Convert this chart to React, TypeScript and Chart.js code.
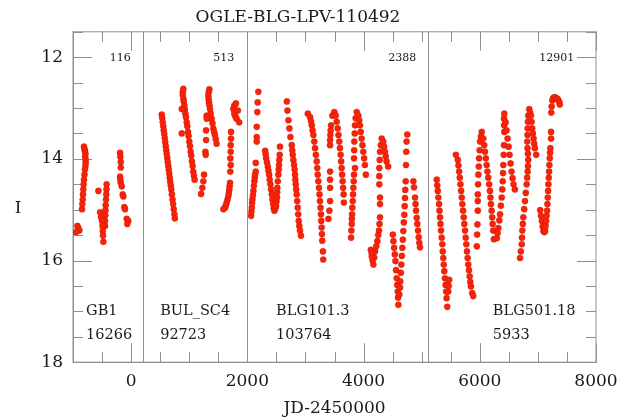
import React, { useEffect, useRef } from 'react';
import { Chart, registerables } from 'chart.js';

Chart.register(...registerables);

type P = [number, number];

// ---- Data (JD-2450000, I mag) ----
const gb1: P[] = [
  [-811, 13.76], [-802, 13.81], [-794, 13.85], [-786, 13.9], [-790, 13.96], [-782, 14.02], [-782, 14.08], [-786, 14.14],
  [-794, 14.21], [-802, 14.31], [-811, 14.41], [-817, 14.5], [-823, 14.6], [-828, 14.7], [-833, 14.8], [-840, 14.89], [-845, 14.99],
  [-925, 15.32], [-908, 15.36], [-891, 15.41], [-947, 15.44],
  [-563, 14.63],
  [-421, 14.5], [-424, 14.6], [-427, 14.7], [-432, 14.8], [-438, 14.91], [-441, 15.01], [-444, 15.11], [-449, 15.22], [-449, 15.32],
  [-534, 15.05], [-517, 15.15], [-500, 15.22], [-492, 15.32], [-487, 15.42], [-483, 15.51], [-478, 15.63],
  [-190, 13.88], [-185, 13.96], [-178, 14.06], [-178, 14.17], [-190, 14.35], [-185, 14.41], [-178, 14.47], [-161, 14.54],
  [-144, 14.7], [-134, 14.74], [-117, 14.95], [-105, 14.99], [-76, 15.18], [-49, 15.22], [-66, 15.28],
];

const bulSc4: P[] = [
  [527, 13.13], [536, 13.2], [544, 13.28], [553, 13.36], [562, 13.44], [570, 13.51], [579, 13.59], [587, 13.67], [596, 13.75],
  [605, 13.83], [613, 13.9], [622, 13.98], [630, 14.06], [639, 14.14], [648, 14.21], [656, 14.29], [665, 14.37], [673, 14.45],
  [682, 14.52], [691, 14.6], [702, 14.7], [713, 14.8], [723, 14.89], [734, 14.99], [745, 15.09], [753, 15.17],
  [899, 12.62], [889, 12.68], [889, 12.74], [899, 12.82], [906, 12.87], [916, 12.95], [925, 13.03], [933, 13.11], [945, 13.18],
  [957, 13.28], [967, 13.36], [979, 13.47], [989, 13.55], [1001, 13.66], [1013, 13.75], [1025, 13.86], [1035, 13.94],
  [1047, 14.05], [1059, 14.14], [1069, 14.25], [1081, 14.33], [1093, 14.41],
  [872, 13.02], [872, 13.5],
  [1255, 14.31], [1243, 14.44], [1226, 14.57], [1204, 14.69],
  [1346, 12.63], [1335, 12.69], [1329, 12.76], [1335, 12.83], [1340, 12.89], [1349, 12.95], [1357, 13.02], [1371, 13.11],
  [1386, 13.21], [1400, 13.3], [1414, 13.4], [1429, 13.47], [1442, 13.53], [1456, 13.61], [1471, 13.7],
  [1301, 13.15], [1301, 13.21], [1290, 13.44], [1290, 13.63], [1278, 13.86], [1284, 13.92],
  [1775, 12.95], [1758, 13.02], [1775, 13.11], [1796, 13.17], [1815, 13.21], [1860, 13.28], [1804, 12.91], [1838, 13.05],
  [1719, 13.47], [1719, 13.6], [1714, 13.73], [1714, 13.86], [1707, 13.99], [1714, 14.12], [1707, 14.25],
  [1702, 14.47], [1695, 14.54], [1690, 14.6], [1682, 14.67], [1673, 14.73], [1659, 14.8], [1646, 14.86], [1631, 14.91],
  [1617, 14.96], [1588, 14.99],
];

const blg101: P[] = [
  [2065, 15.12], [2070, 15.04], [2077, 14.96], [2082, 14.87], [2087, 14.8], [2096, 14.72], [2104, 14.63], [2113, 14.53],
  [2121, 14.44], [2128, 14.37], [2133, 14.31], [2145, 14.25], [2145, 14.08], [2162, 13.66], [2162, 13.57], [2162, 13.37],
  [2172, 13.08], [2178, 12.89], [2189, 12.68],
  [2307, 13.84], [2316, 13.91], [2324, 13.99], [2338, 14.07], [2353, 14.15], [2363, 14.23], [2375, 14.31], [2385, 14.41],
  [2397, 14.5], [2409, 14.6], [2421, 14.7], [2431, 14.8], [2443, 14.89], [2455, 14.97], [2465, 15.02], [2480, 14.98],
  [2494, 14.93], [2502, 14.84], [2511, 14.76], [2514, 14.66], [2516, 14.57], [2524, 14.44], [2533, 14.31], [2540, 14.21],
  [2545, 14.12], [2550, 14.02], [2557, 13.92], [2562, 13.76],
  [2680, 12.87], [2690, 13.05], [2707, 13.24], [2724, 13.4], [2741, 13.57], [2765, 13.73], [2773, 13.83], [2782, 13.92],
  [2792, 14.02], [2804, 14.12], [2813, 14.21], [2821, 14.31], [2826, 14.41], [2833, 14.5], [2841, 14.6], [2850, 14.7],
  [2858, 14.83], [2867, 14.96], [2875, 15.09], [2884, 15.22], [2894, 15.32], [2906, 15.41], [2923, 15.51],
  [3041, 13.11], [3080, 13.18], [3097, 13.26], [3109, 13.34], [3123, 13.44], [3136, 13.53], [3152, 13.66], [3165, 13.79],
  [3179, 13.92], [3194, 14.05], [3203, 14.18], [3211, 14.31], [3221, 14.44], [3233, 14.57], [3242, 14.7], [3250, 14.83],
  [3259, 14.96], [3267, 15.09], [3272, 15.22], [3279, 15.35], [3284, 15.48], [3289, 15.61], [3301, 15.82], [3306, 15.98],
  [3497, 13.08], [3463, 13.15], [3441, 13.34], [3434, 13.44], [3429, 13.53], [3424, 13.63], [3424, 13.73],
  [3424, 14.25], [3424, 14.41], [3424, 14.57], [3424, 14.83], [3412, 15.02], [3395, 15.18],
  [3521, 13.15], [3538, 13.27], [3555, 13.4], [3568, 13.53], [3582, 13.66], [3594, 13.79], [3606, 13.92], [3614, 14.05],
  [3623, 14.18], [3631, 14.31], [3640, 14.44], [3648, 14.57], [3657, 14.7], [3662, 14.86],
  [3882, 13.08], [3865, 13.2], [3853, 13.34], [3848, 13.5], [3841, 13.66], [3839, 13.83], [3836, 13.99], [3853, 14.18],
  [3836, 14.31], [3831, 14.44], [3824, 14.57], [3819, 14.7], [3814, 14.83], [3807, 14.96], [3802, 15.09], [3799, 15.18],
  [3797, 15.28], [3790, 15.41], [3785, 15.55],
  [3910, 13.15], [3925, 13.24], [3938, 13.34], [3952, 13.47], [3967, 13.6], [3981, 13.73], [3995, 13.86], [4010, 13.99],
  [4023, 14.12], [4040, 14.31],
  [4312, 13.6], [4297, 13.73], [4283, 13.86], [4278, 14.02], [4271, 14.18], [4271, 14.34], [4271, 14.5], [4283, 14.76], [4283, 14.89],
  [4339, 13.66], [4354, 13.76], [4368, 13.86], [4381, 13.95], [4396, 14.05], [4423, 14.15],
  [4283, 15.15], [4275, 15.28], [4266, 15.41], [4252, 15.5], [4237, 15.62], [4218, 15.72], [4198, 15.82], [4184, 15.94],
  [4169, 16.08], [4156, 16.0], [4142, 15.92], [4125, 15.79], [4139, 15.85],
  [4504, 15.49], [4514, 15.62], [4526, 15.75], [4538, 15.88], [4548, 16.01], [4560, 16.19], [4571, 16.35], [4580, 16.48],
  [4588, 16.61], [4593, 16.73], [4599, 16.87],
  [4616, 16.67], [4628, 16.53], [4633, 16.41], [4642, 16.24], [4650, 16.08], [4659, 15.91], [4667, 15.75], [4676, 15.59],
  [4684, 15.42], [4693, 15.25], [4701, 15.1], [4708, 14.93], [4713, 14.77], [4718, 14.61], [4725, 14.44], [4730, 14.12],
  [4735, 13.86], [4741, 13.66], [4752, 13.52],
  [4857, 14.44], [4869, 14.56], [4886, 14.76], [4894, 14.89], [4903, 15.02], [4915, 15.16], [4925, 15.28], [4937, 15.41],
  [4949, 15.54], [4959, 15.65], [4971, 15.74],
];

const blg501: P[] = [
  [5260, 14.41], [5268, 14.52], [5277, 14.63], [5287, 14.76], [5299, 14.89], [5307, 15.02], [5316, 15.15], [5324, 15.28],
  [5333, 15.41], [5345, 15.55], [5355, 15.68], [5363, 15.82], [5372, 15.95], [5380, 16.08], [5389, 16.21], [5401, 16.35],
  [5412, 16.48], [5421, 16.61], [5429, 16.74], [5440, 16.91],
  [5474, 16.38], [5465, 16.5], [5457, 16.61],
  [5589, 13.92], [5622, 14.02], [5633, 14.13], [5645, 14.25], [5656, 14.37], [5667, 14.5], [5679, 14.63], [5690, 14.76],
  [5700, 14.89], [5712, 15.02], [5724, 15.15], [5734, 15.28], [5746, 15.41], [5758, 15.55], [5768, 15.68], [5780, 15.82],
  [5792, 15.95], [5802, 16.08], [5814, 16.19], [5826, 16.31], [5836, 16.42], [5848, 16.51], [5870, 16.64], [5887, 16.7],
  [6034, 13.47], [6019, 13.56], [6005, 13.66], [5997, 13.83], [5988, 13.99], [5983, 14.15], [5976, 14.31], [5971, 14.5],
  [5966, 14.7], [5966, 14.83], [5966, 15.02], [5959, 15.29], [5954, 15.49], [5949, 15.72],
  [6061, 13.6], [6076, 13.73], [6090, 13.86], [6104, 13.99], [6119, 14.12], [6132, 14.25], [6146, 14.37], [6161, 14.5],
  [6175, 14.63], [6183, 14.76], [6192, 14.89], [6204, 15.02], [6214, 15.15], [6222, 15.28], [6231, 15.41], [6243, 15.58],
  [6293, 15.56], [6307, 15.46], [6320, 15.36], [6336, 15.21], [6349, 15.09], [6363, 14.92], [6378, 14.76], [6387, 14.6],
  [6395, 14.44], [6400, 14.28], [6405, 14.12], [6412, 13.92], [6417, 13.73], [6422, 13.47], [6419, 13.34], [6417, 13.21], [6422, 13.11],
  [6445, 13.28], [6462, 13.44], [6479, 13.6], [6496, 13.76], [6513, 13.92], [6530, 14.09], [6547, 14.25], [6564, 14.38],
  [6581, 14.5], [6603, 14.6],
  [6693, 15.95], [6707, 15.82], [6722, 15.68], [6727, 15.55], [6732, 15.41], [6741, 15.28], [6749, 15.15], [6764, 14.99],
  [6778, 14.83], [6792, 14.67], [6807, 14.5], [6815, 14.37], [6824, 14.25], [6829, 14.14], [6834, 14.02],
  [6851, 13.02], [6834, 13.15], [6829, 13.27], [6824, 13.4], [6821, 13.53], [6817, 13.66], [6821, 13.79], [6829, 13.9],
  [6866, 13.09], [6880, 13.15], [6892, 13.27], [6902, 13.4], [6914, 13.5], [6926, 13.6], [6936, 13.7], [6948, 13.79], [6970, 13.92],
  [7040, 15.01], [7053, 15.12], [7069, 15.22], [7082, 15.33], [7096, 15.42], [7111, 15.44], [7125, 15.42], [7133, 15.32],
  [7142, 15.22], [7150, 15.12], [7159, 15.02], [7164, 14.89], [7170, 14.76], [7176, 14.63], [7181, 14.5], [7187, 14.37],
  [7193, 14.25], [7198, 14.12], [7204, 13.99], [7210, 13.88], [7215, 13.79], [7227, 13.6], [7227, 13.47],
  [7230, 13.09], [7237, 12.97], [7249, 12.85], [7261, 12.81], [7278, 12.79], [7300, 12.79], [7324, 12.81], [7346, 12.83],
  [7368, 12.88], [7377, 12.93],
];

const separatorsJD = [210, 2000, 5105];
const fieldNames = ['GB1', 'BUL_SC4', 'BLG101.3', 'BLG501.18'];
const fieldCounts = ['16266', '92723', '103764', '5933'];
const topCounts = ['116', '513', '2388', '12901'];
const xTickValues = [0, 2000, 4000, 6000, 8000];
const yTickValues = [12, 14, 16, 18];

// label anchor positions (data units)
const fieldLabelJD = [-775, 500, 2495, 6225];
const topCountJD = [-5, 1775, 4905, 7625];
const TOP_COUNT_I = 12.02;
const FIELD_NAME_I = 16.99;
const FIELD_COUNT_I = 17.46;

const FONT = "'DejaVu Serif', serif";
const AXIS_COLOR = '#8f8f8f';
const TEXT_COLOR = '#1a1a1a';

const framePlugin = {
  id: 'framePlugin',
  beforeDatasetsDraw(chart: any) {
    const { ctx, chartArea } = chart;
    const xs = chart.scales.x;
    const ys = chart.scales.y;
    const { left, right, top, bottom } = chartArea;
    ctx.save();
    ctx.strokeStyle = AXIS_COLOR;
    ctx.lineWidth = 1;
    ctx.strokeRect(left, top, right - left, bottom - top);
    separatorsJD.forEach((v) => {
      const px = Math.round(xs.getPixelForValue(v)) + 0.5;
      ctx.beginPath();
      ctx.moveTo(px, top);
      ctx.lineTo(px, bottom);
      ctx.stroke();
    });
    for (let k = -2; k <= 16; k++) {
      const v = k * 500;
      const px = Math.round(xs.getPixelForValue(v)) + 0.5;
      const len = v % 2000 === 0 ? 19 : 10;
      ctx.beginPath();
      ctx.moveTo(px, bottom);
      ctx.lineTo(px, bottom - len);
      ctx.moveTo(px, top);
      ctx.lineTo(px, top + len);
      ctx.stroke();
    }
    for (let k = 23; k <= 36; k++) {
      const v = k / 2;
      const py = Math.round(ys.getPixelForValue(v)) + 0.5;
      const len = k % 4 === 0 ? 19 : 10;
      ctx.beginPath();
      ctx.moveTo(left, py);
      ctx.lineTo(left + len, py);
      ctx.moveTo(right, py);
      ctx.lineTo(right - len, py);
      ctx.stroke();
    }
    ctx.restore();
  },
  afterDraw(chart: any) {
    const { ctx } = chart;
    const xs = chart.scales.x;
    const ys = chart.scales.y;
    ctx.save();
    ctx.fillStyle = TEXT_COLOR;
    ctx.textBaseline = 'middle';
    ctx.font = `11px ${FONT}`;
    ctx.textAlign = 'right';
    topCounts.forEach((t, i) => {
      ctx.fillText(t, xs.getPixelForValue(topCountJD[i]), ys.getPixelForValue(TOP_COUNT_I));
    });
    ctx.font = `14.5px ${FONT}`;
    ctx.textAlign = 'left';
    fieldNames.forEach((t, i) => {
      ctx.fillText(t, xs.getPixelForValue(fieldLabelJD[i]), ys.getPixelForValue(FIELD_NAME_I));
      ctx.fillText(fieldCounts[i], xs.getPixelForValue(fieldLabelJD[i]), ys.getPixelForValue(FIELD_COUNT_I));
    });
    ctx.font = `17px ${FONT}`;
    ctx.textAlign = 'center';
    ctx.fillText('I', 18, 209);
    ctx.restore();
  },
};

function toPoints(arr: P[]) {
  return arr.map(([x, y]) => ({ x, y }));
}

export default function App() {
  const canvasRef = useRef<HTMLCanvasElement | null>(null);

  useEffect(() => {
    document.body.style.margin = '0';
    const canvas = canvasRef.current;
    if (!canvas) return;
    const pointStyle = {
      pointRadius: 3.1,
      pointHoverRadius: 3.1,
      backgroundColor: 'rgb(250,34,8)',
      borderColor: 'rgba(185,22,0,0.65)',
      borderWidth: 0.5,
      showLine: false,
    };
    const chart = new Chart(canvas, {
      type: 'scatter',
      data: {
        datasets: [
          { label: fieldNames[0], data: toPoints(gb1), ...pointStyle },
          { label: fieldNames[1], data: toPoints(bulSc4), ...pointStyle },
          { label: fieldNames[2], data: toPoints(blg101), ...pointStyle },
          { label: fieldNames[3], data: toPoints(blg501), ...pointStyle },
        ],
      },
      options: {
        animation: false,
        responsive: true,
        maintainAspectRatio: false,
        layout: { padding: { left: 0, right: 21, top: 0, bottom: 0 } },
        plugins: {
          legend: { display: false },
          tooltip: { enabled: false },
          title: {
            display: true,
            text: 'OGLE-BLG-LPV-110492',
            color: TEXT_COLOR,
            font: { family: FONT, size: 17, weight: 'normal' },
            padding: { top: 7, bottom: 4.4 },
          },
        },
        scales: {
          x: {
            type: 'linear',
            min: -1000,
            max: 8000,
            afterBuildTicks: (s: any) => {
              s.ticks = xTickValues.map((v) => ({ value: v }));
            },
            afterFit: (s: any) => {
              s.height = 56.8;
              s.paddingLeft = 0;
              s.paddingRight = 0;
            },
            grid: { display: false, drawTicks: false },
            border: { display: true, color: AXIS_COLOR, width: 1 },
            ticks: {
              color: TEXT_COLOR,
              font: { family: FONT, size: 17 },
              padding: 9,
              maxRotation: 0,
              callback: (v: any) => String(v),
            },
            title: {
              display: true,
              text: 'JD-2450000',
              color: TEXT_COLOR,
              font: { family: FONT, size: 17 },
              padding: { top: 0, bottom: 0 },
            },
          },
          y: {
            type: 'linear',
            reverse: true,
            min: 11.5,
            max: 18,
            afterBuildTicks: (s: any) => {
              s.ticks = yTickValues.map((v) => ({ value: v }));
            },
            afterFit: (s: any) => {
              s.width = 73;
              s.paddingTop = 0;
              s.paddingBottom = 0;
            },
            grid: { display: false, drawTicks: false },
            border: { display: true, color: AXIS_COLOR, width: 1 },
            ticks: {
              color: TEXT_COLOR,
              font: { family: FONT, size: 17 },
              padding: 10,
              callback: (v: any) => String(v),
            },
          },
        },
      },
      plugins: [framePlugin],
    });
    return () => chart.destroy();
  }, []);

  return (
    <div style={{ position: 'relative', width: 617, height: 419 }}>
      <canvas ref={canvasRef} />
    </div>
  );
}
